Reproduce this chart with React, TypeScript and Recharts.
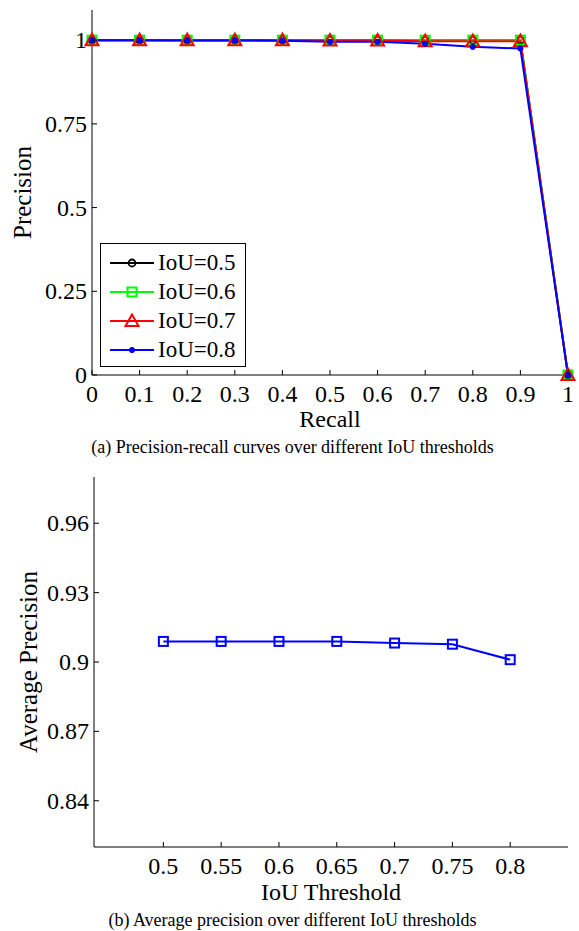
import React from 'react';
import { LineChart, Line, XAxis, YAxis, Legend, Label } from 'recharts';

// recall sampling points (top chart)
const recall = [0, 0.1, 0.2, 0.3, 0.4, 0.5, 0.6, 0.7, 0.8, 0.9, 1];
const iou05 = [1, 1, 1, 1, 1, 1, 1, 1, 1, 1, 0];
const iou06 = [1, 1, 1, 1, 1, 1, 1, 1, 1, 1, 0];
const iou07 = [1, 1, 1, 1, 1, 0.999, 0.999, 0.997, 0.997, 0.997, 0];
const iou08 = [1, 1, 0.999, 0.999, 0.998, 0.995, 0.995, 0.989, 0.98, 0.975, 0];

const recallTicks = [0, 0.1, 0.2, 0.3, 0.4, 0.5, 0.6, 0.7, 0.8, 0.9, 1];
const precisionTicks = [0, 0.25, 0.5, 0.75, 1];

// IoU threshold vs average precision (bottom chart)
const thresholds = [0.5, 0.55, 0.6, 0.65, 0.7, 0.75, 0.8];
const avgPrecision = [0.9089, 0.9089, 0.9089, 0.9089, 0.9082, 0.9077, 0.901];
const apTicks = [0.84, 0.87, 0.9, 0.93, 0.96];

const FONT = '"Liberation Serif", "Times New Roman", serif';
const TICK_LEN = 5;

const prData = recall.map((r, i) => ({
  recall: r,
  iou05: iou05[i],
  iou06: iou06[i],
  iou07: iou07[i],
  iou08: iou08[i],
}));

const apData = thresholds.map((t, i) => ({ t, ap: avgPrecision[i] }));

const series = [
  { key: 'iou05', name: 'IoU=0.5', color: '#000000', marker: 'circle' },
  { key: 'iou06', name: 'IoU=0.6', color: '#00ff00', marker: 'square' },
  { key: 'iou07', name: 'IoU=0.7', color: '#ff0000', marker: 'triangle' },
  { key: 'iou08', name: 'IoU=0.8', color: '#0000ff', marker: 'dot' },
];

const Marker = ({ cx, cy, type, color }: any) => {
  if (cx == null || cy == null) return null;
  if (type === 'circle')
    return <circle cx={cx} cy={cy} r={3.5} fill="none" stroke={color} strokeWidth={1.8} />;
  if (type === 'square')
    return <rect x={cx - 4.5} y={cy - 4.5} width={9} height={9} fill="none" stroke={color} strokeWidth={2} />;
  if (type === 'triangle')
    return (
      <polygon
        points={`${cx},${cy - 6.5} ${cx - 6.5},${cy + 5} ${cx + 6.5},${cy + 5}`}
        fill="none"
        stroke={color}
        strokeWidth={2}
      />
    );
  return <circle cx={cx} cy={cy} r={2.6} fill={color} stroke={color} />;
};

const textStyle = { fontFamily: FONT, fontSize: 24, fill: '#000' };

// inward MATLAB-style ticks
const makeTick = (side: string, showLabel: boolean) => (props: any) => {
  const { x, y, payload } = props;
  const label = String(payload.value);
  if (side === 'bottom')
    return (
      <g>
        <line x1={x} y1={y} x2={x} y2={y - TICK_LEN} stroke="#000" />
        {showLabel && (
          <text x={x} y={y + 27} textAnchor="middle" style={textStyle}>
            {label}
          </text>
        )}
      </g>
    );
  if (side === 'top')
    return <line x1={x} y1={y} x2={x} y2={y + TICK_LEN} stroke="#000" />;
  if (side === 'left')
    return (
      <g>
        <line x1={x} y1={y} x2={x + TICK_LEN} y2={y} stroke="#000" />
        {showLabel && (
          <text x={x - 5} y={y + 8} textAnchor="end" style={textStyle}>
            {label}
          </text>
        )}
      </g>
    );
  return <line x1={x} y1={y} x2={x - TICK_LEN} y2={y} stroke="#000" />;
};

const PRLegend = () => (
  <div
    style={{
      border: '1px solid #000',
      background: '#fff',
      width: 146,
      height: 124,
      boxSizing: 'border-box',
      padding: '4px 0 0 8px',
      fontFamily: FONT,
      fontSize: 23,
      lineHeight: '29px',
    }}
  >
    {series.map((s) => (
      <div key={s.key} style={{ display: 'flex', alignItems: 'center', height: 29 }}>
        <svg width={48} height={20} style={{ marginRight: 1 }}>
          <line x1={1} y1={10} x2={45} y2={10} stroke={s.color} strokeWidth={2} />
          <Marker cx={23} cy={10} type={s.marker} color={s.color} />
        </svg>
        <span>{s.name}</span>
      </div>
    ))}
  </div>
);

const caption: React.CSSProperties = {
  position: 'absolute',
  left: 0,
  width: 585,
  textAlign: 'center',
  fontFamily: FONT,
  fontSize: 18,
  lineHeight: '20px',
  color: '#000',
};

export default function App() {
  return (
    <div
      style={{
        position: 'absolute',
        left: 0,
        top: 0,
        width: 579,
        height: 931,
        background: '#fff',
        fontFamily: FONT,
      }}
    >
      <div style={{ position: 'absolute', left: 0, top: 0 }}>
        <LineChart width={579} height={433} data={prData} margin={{ top: 10, right: 11, bottom: 0, left: 0 }}>
          <XAxis
            dataKey="recall"
            type="number"
            domain={[0, 1]}
            ticks={recallTicks}
            height={58}
            tickSize={0}
            tickMargin={0}
            tick={makeTick('bottom', true)}
            axisLine={{ stroke: '#000' }}
            interval={0}
          >
            <Label value="Recall" position="insideBottom" offset={6} style={textStyle} />
          </XAxis>
          <XAxis
            xAxisId="top"
            orientation="top"
            type="number"
            domain={[0, 1]}
            ticks={recallTicks}
            height={0}
            tickSize={0}
            tickMargin={0}
            tick={makeTick('top', false)}
            axisLine={{ stroke: '#000' }}
            interval={0}
          />
          <YAxis
            type="number"
            domain={[0, 1.09]}
            ticks={precisionTicks}
            width={92}
            tickSize={0}
            tickMargin={0}
            tick={makeTick('left', true)}
            axisLine={{ stroke: '#000' }}
            interval={0}
          >
            <Label
              value="Precision"
              angle={-90}
              position="insideLeft"
              offset={0}
              dx={22}
              style={{ ...textStyle, fontSize: 25, textAnchor: 'middle' }}
            />
          </YAxis>
          <YAxis
            yAxisId="right"
            orientation="right"
            type="number"
            domain={[0, 1.09]}
            ticks={precisionTicks}
            width={0}
            tickSize={0}
            tickMargin={0}
            tick={makeTick('right', false)}
            axisLine={{ stroke: '#000' }}
            interval={0}
          />
          <Legend
            layout="vertical"
            align="center"
            verticalAlign="middle"
            content={() => <PRLegend />}
            wrapperStyle={{ left: 100, top: 243, width: 146, height: 124 }}
          />
          {series.map((s) => (
            <Line
              key={s.key}
              dataKey={s.key}
              name={s.name}
              stroke={s.color}
              strokeWidth={2}
              isAnimationActive={false}
              dot={(p: any) => <Marker key={`${s.key}-${p.index}`} cx={p.cx} cy={p.cy} type={s.marker} color={s.color} />}
              activeDot={false}
            />
          ))}
        </LineChart>
      </div>
      <div style={{ ...caption, top: 437 }}>(a) Precision-recall curves over different IoU thresholds</div>

      <div style={{ position: 'absolute', left: 0, top: 460 }}>
        <LineChart width={579} height={445} data={apData} margin={{ top: 17, right: 11, bottom: 0, left: 0 }}>
          <XAxis
            dataKey="t"
            type="number"
            domain={[0.44, 0.85]}
            ticks={thresholds}
            height={58}
            tickSize={0}
            tickMargin={0}
            tick={makeTick('bottom', true)}
            axisLine={{ stroke: '#000' }}
            interval={0}
          >
            <Label value="IoU Threshold" position="insideBottom" offset={5} style={textStyle} />
          </XAxis>
          <XAxis
            xAxisId="top"
            orientation="top"
            type="number"
            domain={[0.44, 0.85]}
            ticks={thresholds}
            height={0}
            tickSize={0}
            tickMargin={0}
            tick={makeTick('top', false)}
            axisLine={{ stroke: '#000' }}
            interval={0}
          />
          <YAxis
            type="number"
            domain={[0.82, 0.98]}
            ticks={apTicks}
            width={94}
            tickSize={0}
            tickMargin={0}
            tick={makeTick('left', true)}
            axisLine={{ stroke: '#000' }}
            interval={0}
          >
            <Label
              value="Average Precision"
              angle={-90}
              position="insideLeft"
              offset={0}
              dx={28}
              style={{ ...textStyle, fontSize: 25, textAnchor: 'middle' }}
            />
          </YAxis>
          <YAxis
            yAxisId="right"
            orientation="right"
            type="number"
            domain={[0.82, 0.98]}
            ticks={apTicks}
            width={0}
            tickSize={0}
            tickMargin={0}
            tick={makeTick('right', false)}
            axisLine={{ stroke: '#000' }}
            interval={0}
          />
          <Line
            dataKey="ap"
            stroke="#0000ff"
            strokeWidth={2}
            isAnimationActive={false}
            dot={(p: any) => <Marker key={`ap-${p.index}`} cx={p.cx} cy={p.cy} type="square" color="#0000ff" />}
            activeDot={false}
          />
        </LineChart>
      </div>
      <div style={{ ...caption, top: 910 }}>(b) Average precision over different IoU thresholds</div>
    </div>
  );
}
